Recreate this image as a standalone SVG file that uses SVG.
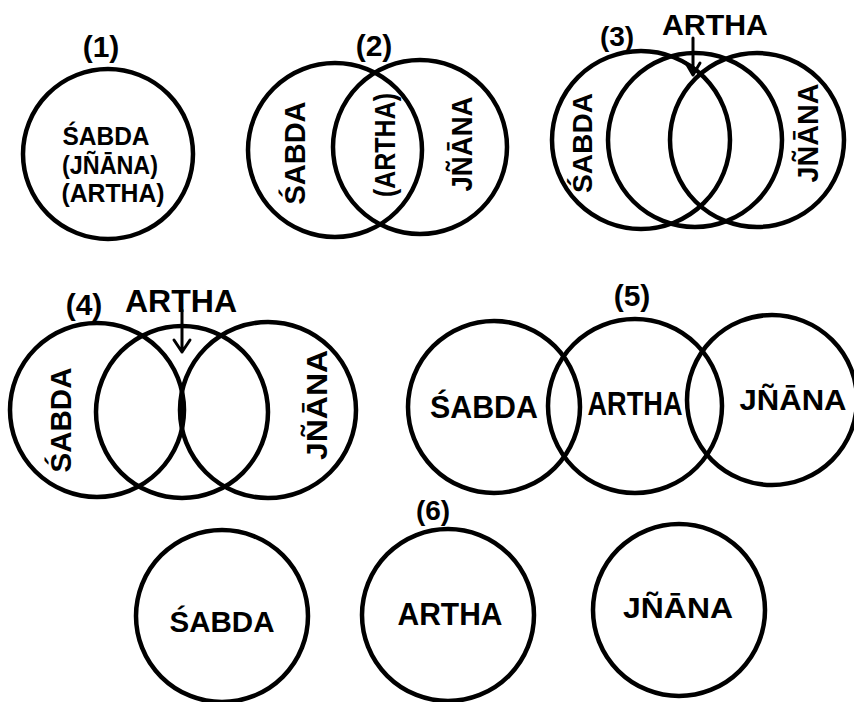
<svg xmlns="http://www.w3.org/2000/svg" width="854" height="702" viewBox="0 0 854 702">
<style>
.c{fill:none;stroke:#000;stroke-width:4.5}
.t{font-family:"Liberation Sans","DejaVu Sans",sans-serif;font-weight:bold;fill:#000;text-anchor:middle}
.a{fill:none;stroke:#000;stroke-width:3;stroke-linecap:round;stroke-linejoin:round}
</style>
<rect width="854" height="702" fill="#fff"/>
<g id="d1">
<text class="t" x="101" y="57" font-size="30">(1)</text>
<circle class="c" cx="108" cy="154" r="85"/>
<text class="t" x="106" y="145" font-size="26" textLength="87" lengthAdjust="spacingAndGlyphs">ŚABDA</text>
<text class="t" x="110" y="174" font-size="26" textLength="96" lengthAdjust="spacingAndGlyphs">(JÑĀNA)</text>
<text class="t" x="113" y="202" font-size="26" textLength="103" lengthAdjust="spacingAndGlyphs">(ARTHA)</text>
</g>
<g id="d2">
<text class="t" x="374" y="56" font-size="30">(2)</text>
<circle class="c" cx="335" cy="150" r="87"/>
<circle class="c" cx="420" cy="147" r="87"/>
<text class="t" font-size="29" transform="translate(305,153) rotate(-90)" textLength="103" lengthAdjust="spacingAndGlyphs">ŚABDA</text>
<text class="t" font-size="29" transform="translate(395,145) rotate(-90)" textLength="104" lengthAdjust="spacingAndGlyphs">(ARTHA)</text>
<text class="t" font-size="29" transform="translate(472,144) rotate(-90)" textLength="95" lengthAdjust="spacingAndGlyphs">JÑĀNA</text>
</g>
<g id="d3">
<text class="t" x="617" y="46" font-size="28">(3)</text>
<text class="t" x="715" y="35" font-size="30" textLength="106" lengthAdjust="spacingAndGlyphs">ARTHA</text>
<circle class="c" cx="641" cy="140" r="89"/>
<circle class="c" cx="695" cy="140" r="87"/>
<circle class="c" cx="757" cy="140" r="87"/>
<text class="t" font-size="28" transform="translate(592,143) rotate(-90)" textLength="100" lengthAdjust="spacingAndGlyphs">ŚABDA</text>
<text class="t" font-size="29" transform="translate(818,133) rotate(-90)" textLength="99" lengthAdjust="spacingAndGlyphs">JÑĀNA</text>
</g>
<g id="d4">
<text class="t" x="84" y="315" font-size="30">(4)</text>
<text class="t" x="181" y="312" font-size="32" textLength="112" lengthAdjust="spacingAndGlyphs">ARTHA</text>
<circle class="c" cx="97" cy="410" r="87"/>
<circle class="c" cx="182" cy="412" r="86"/>
<circle class="c" cx="268" cy="410" r="88"/>
<text class="t" font-size="29" transform="translate(71,420) rotate(-90)" textLength="105" lengthAdjust="spacingAndGlyphs">ŚABDA</text>
<text class="t" font-size="29" transform="translate(327,405) rotate(-90)" textLength="110" lengthAdjust="spacingAndGlyphs">JÑĀNA</text>
</g>
<g id="d5">
<text class="t" x="632" y="306" font-size="30">(5)</text>
<circle class="c" cx="494" cy="407" r="86"/>
<circle class="c" cx="635" cy="406" r="87"/>
<circle class="c" cx="772" cy="400" r="85"/>
<text class="t" x="484" y="418" font-size="31" textLength="108" lengthAdjust="spacingAndGlyphs">ŚABDA</text>
<text class="t" x="635" y="415" font-size="33" textLength="95" lengthAdjust="spacingAndGlyphs">ARTHA</text>
<text class="t" x="793" y="410" font-size="29" textLength="107" lengthAdjust="spacingAndGlyphs">JÑĀNA</text>
</g>
<g id="d6">
<text class="t" x="433" y="520" font-size="28">(6)</text>
<circle class="c" cx="222" cy="616" r="86"/>
<circle class="c" cx="448" cy="615" r="86"/>
<circle class="c" cx="679" cy="610" r="86"/>
<text class="t" x="222" y="632" font-size="30" textLength="105" lengthAdjust="spacingAndGlyphs">ŚABDA</text>
<text class="t" x="450" y="625" font-size="31" textLength="105" lengthAdjust="spacingAndGlyphs">ARTHA</text>
<text class="t" x="678" y="618" font-size="29" textLength="110" lengthAdjust="spacingAndGlyphs">JÑĀNA</text>
</g>
<g id="connectors">
<path class="a" d="M693 38 V75 M686 63 L693 75 L700 63"/>
<path class="a" d="M182 310 V352 M174 340 L182 352 L190 340"/>
</g>
</svg>
